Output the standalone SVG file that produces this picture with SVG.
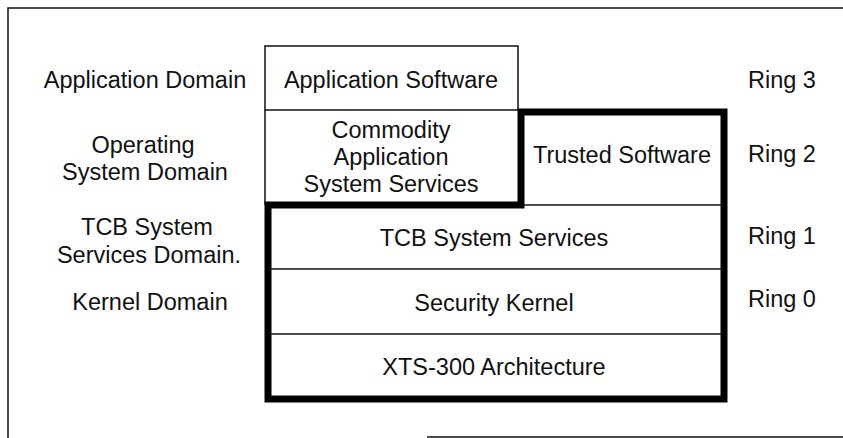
<svg xmlns="http://www.w3.org/2000/svg" width="843" height="438" viewBox="0 0 843 438">
<style>
text{font-family:"Liberation Sans",Arial,sans-serif;font-size:23.5px;fill:#111;}
.c{text-anchor:middle;}
.thin{fill:none;stroke:#111;stroke-width:1.5;}
.thick{fill:none;stroke:#000;stroke-width:7;stroke-linejoin:miter;}
</style>
<rect width="843" height="438" fill="#fff"/>
<g id="frame">
<path class="thin" d="M8,438 V8 H843" stroke-width="2"/>
<path class="thin" d="M427,437 H843" stroke-width="2"/>
</g>
<g id="labels-left">
<text class="c" x="145" y="88">Application Domain</text>
<text class="c" x="143" y="153">Operating</text>
<text class="c" x="145" y="180">System Domain</text>
<text class="c" x="147" y="235">TCB System</text>
<text class="c" x="149" y="263">Services Domain.</text>
<text class="c" x="150" y="310">Kernel Domain</text>
</g>
<g id="labels-right">
<text x="748" y="88">Ring 3</text>
<text x="748" y="162">Ring 2</text>
<text x="748" y="244">Ring 1</text>
<text x="748" y="307">Ring 0</text>
</g>
<g id="application-software">
<rect class="thin" x="265" y="46" width="253" height="64"/>
<text class="c" x="391" y="88">Application Software</text>
</g>
<g id="commodity">
<path class="thin" d="M265,110 V205"/>
<text class="c" x="391" y="138">Commodity</text>
<text class="c" x="391" y="165">Application</text>
<text class="c" x="391" y="192">System Services</text>
</g>
<g id="trusted-software">
<text class="c" x="622" y="163">Trusted Software</text>
</g>
<g id="tcb-system-services">
<path class="thin" d="M521,205 H724"/>
<text class="c" x="494" y="246">TCB System Services</text>
</g>
<g id="security-kernel">
<path class="thin" d="M268,269 H724"/>
<text class="c" x="494" y="311">Security Kernel</text>
</g>
<g id="xts-300">
<path class="thin" d="M268,334 H724"/>
<text class="c" x="494" y="375">XTS-300 Architecture</text>
</g>
<g id="tcb-boundary">
<path class="thick" d="M268,205 H521 V112 H724 V399 H268 Z"/>
</g>
</svg>
